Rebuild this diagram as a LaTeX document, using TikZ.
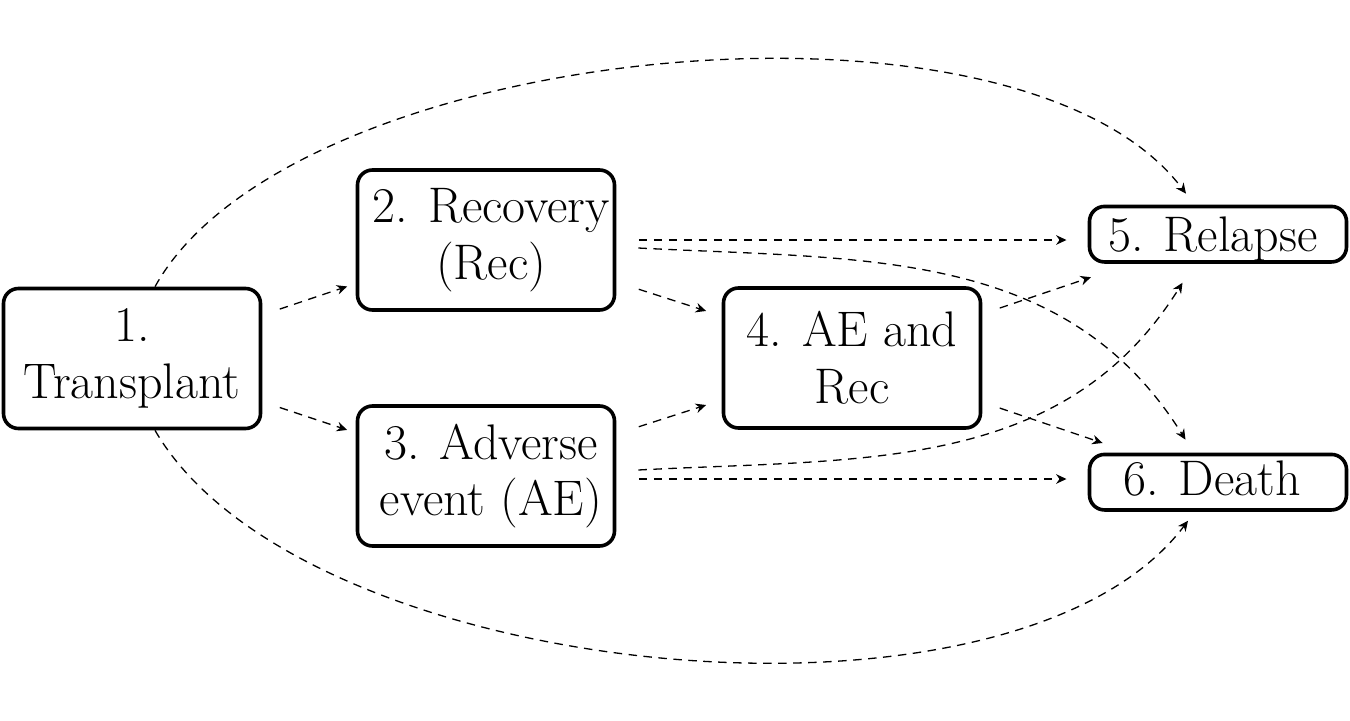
\documentclass[tikz,border=0pt]{standalone}
\usetikzlibrary{arrows.meta,calc}
\begin{document}
\begin{tikzpicture}[x=0.5pt,y=0.5pt,
  box/.style={draw,line width=1.8pt,rounded corners=7.5pt,minimum width=128.5pt,
    inner sep=0pt,align=center,font=\fontsize{25}{28.4}\selectfont},
  tallbox/.style={box,minimum height=70pt},
  flatbox/.style={box,minimum height=27.75pt,text depth=0pt},
  conn/.style={line width=0.65pt,dash pattern=on 4.25pt off 3.25pt,
    -{Stealth[length=5.2pt,width=4.8pt,inset=1.7pt]}}]
\useasboundingbox (0,0) rectangle (1350,720);
\node[tallbox] (n1) at (132,361.5) {1.\\Transplant};
\node[tallbox] (n2) at (486,480) {\hspace*{5pt}2. Recovery\\\hspace*{5pt}(Rec)};
\node[tallbox] (n3) at (486,244) {\hspace*{5pt}3. Adverse\\\hspace*{5pt}event (AE)};
\node[tallbox] (n4) at (852,362) {4. AE and\\Rec};
\node[flatbox,text height=16.8pt] (n5) at (1218,485.8) {5. Relapse\hspace*{5pt}};
\node[flatbox,text height=13.5pt] (n6) at (1218,237.8) {6. Death\hspace*{6pt}};
% straight connectors
\draw[conn,shorten <=9.2pt,shorten >=4.5pt] (n1) -- (n2);
\draw[conn,shorten <=9.2pt,shorten >=4.5pt] (n1) -- (n3);
\draw[conn,shorten <=11.8pt,shorten >=8.2pt] (n2) -- (n4);
\draw[conn,shorten <=11.8pt,shorten >=8.2pt] (n3) -- (n4);
\draw[conn,shorten <=9.2pt,shorten >=21pt] (n4) -- (n5);
\draw[conn,shorten <=9.2pt,shorten >=15pt] (n4) -- (n6);
\draw[conn,shorten <=11.25pt,shorten >=10.6pt] (n2.east) -- (n2.east -| n5.west);
\draw[conn,shorten <=11.25pt,shorten >=10.6pt] ($(n3.east)+(0,-3)$) -- ($(n3.east -| n6.west)+(0,-3)$);
% curved connectors
\draw[conn] ($(n2.east)+(22,-8)$) to[out=-3,in=122] ($(n6.north)+(-32.5,13)$);
\draw[conn] ($(n3.east)+(22,6)$) to[out=3,in=-122] ($(n5.south)+(-35.5,-19)$);
\draw[conn] ($(n1.north)+(23,0)$) to[out=61,in=127,looseness=0.69] ($(n5.north)+(-32,11)$);
\draw[conn] ($(n1.south)+(23,0)$) to[out=-60,in=-127,looseness=0.72] ($(n6.south)+(-30,-9)$);
\end{tikzpicture}
\end{document}
